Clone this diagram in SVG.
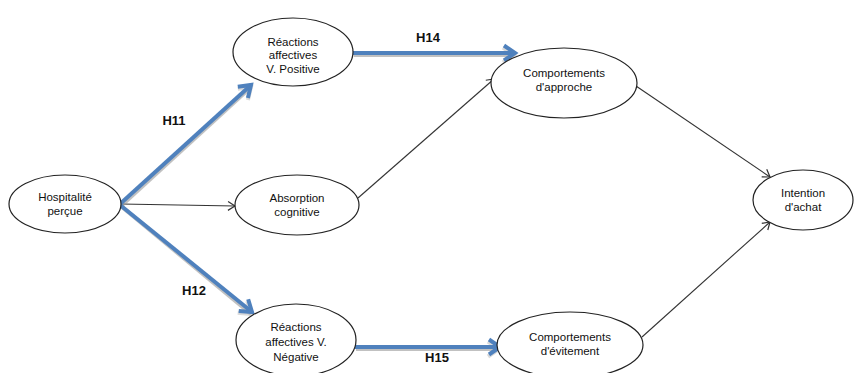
<svg xmlns="http://www.w3.org/2000/svg" width="854" height="373" viewBox="0 0 854 373">
<style>
.node ellipse{fill:#fff;stroke:#222;stroke-width:1.2}
.node text{font-family:"Liberation Sans",Arial,sans-serif;font-size:11.5px;fill:#111;text-anchor:middle}
.thin{stroke:#333;stroke-width:1.1;fill:none}
.blue{stroke:#4f81bd;stroke-width:4;fill:none}
.shadow{stroke:#999;stroke-width:4;fill:none;opacity:0.6}
.lbl{font-family:"Liberation Sans",Arial,sans-serif;font-size:13px;font-weight:bold;fill:#111;text-anchor:middle}
</style>
<defs>
<marker id="open" markerWidth="12" markerHeight="12" refX="10" refY="6" orient="auto" markerUnits="userSpaceOnUse">
<path d="M3,1.5 L10,6 L3,10.5" fill="none" stroke="#333" stroke-width="1.2"/>
</marker>
<marker id="blueHead" markerWidth="20" markerHeight="20" refX="16" refY="10" orient="auto" markerUnits="userSpaceOnUse">
<path d="M5,2.5 L16,10 L5,17.5" fill="none" stroke="#4f81bd" stroke-width="4"/>
</marker>
<marker id="shadowHead" markerWidth="20" markerHeight="20" refX="16" refY="10" orient="auto" markerUnits="userSpaceOnUse">
<path d="M5,2.5 L16,10 L5,17.5" fill="none" stroke="#999" stroke-width="4" opacity="0.6"/>
</marker>
</defs>
<g id="connectors">
<line class="thin" x1="121" y1="204" x2="235" y2="206" marker-end="url(#open)"/>
<line class="thin" x1="358" y1="198" x2="494" y2="79" marker-end="url(#open)"/>
<line class="thin" x1="636" y1="86" x2="770" y2="177" marker-end="url(#open)"/>
<line class="thin" x1="642" y1="337" x2="770" y2="222" marker-end="url(#open)"/>
<line class="shadow" x1="122" y1="205" x2="251" y2="87" marker-end="url(#shadowHead)"/>
<line class="shadow" x1="122" y1="207" x2="251" y2="314" marker-end="url(#shadowHead)"/>
<line class="shadow" x1="354" y1="55" x2="514" y2="55" marker-end="url(#shadowHead)"/>
<line class="shadow" x1="356" y1="349" x2="499" y2="349" marker-end="url(#shadowHead)"/>
<line class="blue" x1="120" y1="204" x2="251" y2="85" marker-end="url(#blueHead)"/>
<line class="blue" x1="120" y1="205" x2="252" y2="312" marker-end="url(#blueHead)"/>
<line class="blue" x1="353" y1="53" x2="515" y2="53" marker-end="url(#blueHead)"/>
<line class="blue" x1="355" y1="347" x2="500" y2="347" marker-end="url(#blueHead)"/>
<text class="lbl" x="174" y="125">H11</text>
<text class="lbl" x="194" y="295">H12</text>
<text class="lbl" x="428" y="42">H14</text>
<text class="lbl" x="437" y="362">H15</text>
</g>
<g id="n-hospitalite" class="node">
<ellipse cx="65" cy="204" rx="56" ry="29"/>
<text x="65" y="200.5">Hospitalité</text>
<text x="65" y="214.5">perçue</text>
</g>
<g id="n-positive" class="node">
<ellipse cx="293" cy="52" rx="60" ry="34"/>
<text x="293" y="45.5">Réactions</text>
<text x="293" y="59">affectives</text>
<text x="293" y="72.5">V. Positive</text>
</g>
<g id="n-absorption" class="node">
<ellipse cx="297" cy="205" rx="62" ry="30"/>
<text x="297" y="202">Absorption</text>
<text x="297" y="216">cognitive</text>
</g>
<g id="n-negative" class="node">
<ellipse cx="296" cy="340" rx="60" ry="36"/>
<text x="296" y="331">Réactions</text>
<text x="296" y="345.5">affectives V.</text>
<text x="296" y="361">Négative</text>
</g>
<g id="n-approche" class="node">
<ellipse cx="564" cy="83" rx="73" ry="35"/>
<text x="564" y="77">Comportements</text>
<text x="564" y="91">d'approche</text>
</g>
<g id="n-evitement" class="node">
<ellipse cx="570" cy="345" rx="73" ry="33"/>
<text x="570" y="341">Comportements</text>
<text x="570" y="355">d'évitement</text>
</g>
<g id="n-intention" class="node">
<ellipse cx="803" cy="200" rx="50" ry="30"/>
<text x="803" y="197">Intention</text>
<text x="803" y="211">d'achat</text>
</g>
</svg>
